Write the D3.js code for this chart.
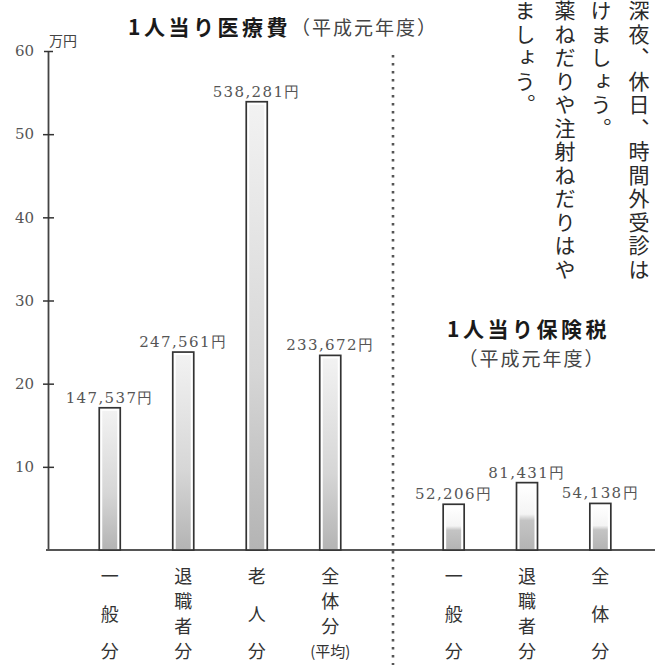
<!DOCTYPE html>
<html>
<head>
<meta charset="utf-8">
<script src="https://cdn.jsdelivr.net/npm/d3@7"></script>
<style>
  body { margin: 0; background: #fff; }
  svg { display: block; }
</style>
</head>
<body>
<div id="chart"></div>
<script>
// data (bar heights in 万円, labels as printed)
var costCats = ["一般分", "退職者分", "老人分", "全体分（平均）"];
var costBars = [17.1, 23.8, 53.9, 23.4];
var costLabels = ["147,537円", "247,561円", "538,281円", "233,672円"];

var taxCats = ["一般分", "退職者分", "全体分"];
var taxBars = [5.5, 8.1, 5.6];
var taxLabels = ["52,206円", "81,431円", "54,138円"];

var yTicks = [10, 20, 30, 40, 50, 60];

// body text columns of the page (right to left)
var bodyCols = ["深夜、休日、時間外受診は", "けましょう。", "薬ねだりや注射ねだりはや", "ましょう。"];

var width = 655, height = 665;
var jp = "'Noto Sans CJK JP', 'Noto Sans', sans-serif";
var serif = "'DejaVu Serif', 'Liberation Serif', serif";

var svg = d3.select("#chart").append("svg")
  .attr("width", width)
  .attr("height", height);

var defs = svg.append("defs");
var g1 = defs.append("linearGradient").attr("id", "tall")
  .attr("x1", 0).attr("y1", 0).attr("x2", 0).attr("y2", 1);
g1.append("stop").attr("offset", 0).attr("stop-color", "#f2f2f2");
g1.append("stop").attr("offset", 0.6).attr("stop-color", "#d6d6d6");
g1.append("stop").attr("offset", 1).attr("stop-color", "#b4b4b4");
var g2 = defs.append("linearGradient").attr("id", "short")
  .attr("x1", 0).attr("y1", 0).attr("x2", 0).attr("y2", 1);
g2.append("stop").attr("offset", 0).attr("stop-color", "#ffffff");
g2.append("stop").attr("offset", 0.45).attr("stop-color", "#f4f4f4");
g2.append("stop").attr("offset", 0.55).attr("stop-color", "#c4c4c4");
g2.append("stop").attr("offset", 1).attr("stop-color", "#b4b4b4");

var y = d3.scaleLinear().domain([0, 60]).range([550, 51]);
var xLeft = d3.scalePoint().domain(costCats).range([73, 367]).padding(0.5);
var xRight = d3.scalePoint().domain(taxCats).range([417, 637]).padding(0.5);
var barW = 21;

// y axis
var axis = svg.append("g")
  .attr("transform", "translate(48,0)")
  .call(d3.axisLeft(y).tickValues(yTicks).tickSize(5).tickSizeOuter(0).tickPadding(9));
axis.select(".domain").attr("stroke", "#444").attr("stroke-width", 1.8);
axis.selectAll(".tick line")
  .attr("x1", function(d) { return d == 60 ? -4 : -5; })
  .attr("x2", function(d) { return d == 60 ? 5 : 6; })
  .attr("stroke", "#333").attr("stroke-width", 1.5);
axis.selectAll(".tick text")
  .attr("font-family", serif).attr("font-size", 15).attr("fill", "#555");

svg.append("text").attr("x", 49).attr("y", 46)
  .attr("font-family", jp).attr("font-size", 14).attr("fill", "#444")
  .text("万円");

// baseline and divider
svg.append("line").attr("x1", 46).attr("x2", width).attr("y1", y(0)).attr("y2", y(0))
  .attr("stroke", "#555").attr("stroke-width", 2.2);
svg.append("line").attr("x1", 393).attr("x2", 393).attr("y1", 55).attr("y2", height)
  .attr("stroke", "#555").attr("stroke-width", 2.6).attr("stroke-dasharray", "2.5,5.5");

function drawBars(cats, vals, labels, xs, grad) {
  var grp = svg.append("g");
  var bars = grp.selectAll("g.bar").data(cats).enter().append("g").attr("class", "bar");
  bars.append("rect")
    .attr("x", function(d) { return xs(d) - barW / 2; })
    .attr("y", function(d, i) { return y(vals[i]); })
    .attr("width", barW)
    .attr("height", function(d, i) { return y(0) - y(vals[i]); })
    .attr("fill", "#fff").attr("stroke", "#333").attr("stroke-width", 1.7);
  bars.append("rect")
    .attr("x", function(d) { return xs(d) - barW / 2 + 3; })
    .attr("y", function(d, i) { return y(vals[i]) + 3; })
    .attr("width", barW - 6)
    .attr("height", function(d, i) { return y(0) - y(vals[i]) - 4; })
    .attr("fill", "url(#" + grad + ")");
  bars.append("text")
    .attr("x", function(d) { return xs(d); })
    .attr("y", function(d, i) { return y(vals[i]) - 5; })
    .attr("text-anchor", "middle")
    .attr("font-family", serif).attr("font-size", 15).attr("letter-spacing", 1.4)
    .attr("fill", "#555")
    .text(function(d, i) { return labels[i]; });

  // vertical category labels, spread between the two rows
  bars.each(function(d) {
    var units = d.match(/（.*?）|./g);
    var top = 577, bottom = 652;
    var step = (bottom - top) / (units.length - 1);
    var sel = d3.select(this);
    units.forEach(function(u, k) {
      sel.append("text")
        .attr("x", xs(d))
        .attr("y", top + k * step)
        .attr("dy", "0.35em")
        .attr("text-anchor", "middle")
        .attr("font-family", jp)
        .attr("font-size", u.length > 1 ? 15 : 18)
        .attr("fill", "#333")
        .text(u.length > 1 ? "(" + u.slice(1, -1) + ")" : u);
    });
  });
}

drawBars(costCats, costBars, costLabels, xLeft, "tall");
drawBars(taxCats, taxBars, taxLabels, xRight, "short");

// titles
function title(x, yPos, bold, rest) {
  var t = svg.append("text").attr("x", x).attr("y", yPos).attr("font-family", jp);
  t.append("tspan").attr("font-size", 21).attr("font-weight", "bold")
    .attr("letter-spacing", 3.5).attr("fill", "#1a1a1a").text(bold);
  if (rest) t.append("tspan").attr("font-size", 19).attr("letter-spacing", 2)
    .attr("fill", "#444").text(rest);
}
title(128, 35, "1人当り医療費", "（平成元年度）");
title(447, 337, "1人当り保険税", null);
svg.append("text").attr("x", 532).attr("y", 366).attr("text-anchor", "middle")
  .attr("font-family", jp).attr("font-size", 19).attr("letter-spacing", 2)
  .attr("fill", "#444").text("（平成元年度）");

// vertical body text at top right
var colX = [639, 601, 565, 525];
bodyCols.forEach(function(s, i) {
  svg.append("text")
    .attr("x", colX[i]).attr("y", 0)
    .attr("font-family", jp).attr("font-size", 21)
    .attr("letter-spacing", 2.5)
    .attr("fill", "#2a2a2a")
    .style("writing-mode", "vertical-rl")
    .text(s);
});
</script>
</body>
</html>
